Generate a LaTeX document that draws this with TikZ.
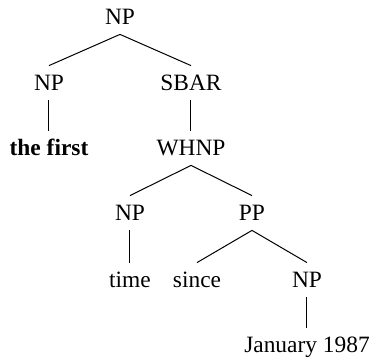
\documentclass[tikz,border=0pt]{standalone}
\usepackage{fontspec}
\setmainfont{Liberation Serif}
\usepackage{tikz}
\usetikzlibrary{positioning}

\tikzset{
  cat/.style={inner xsep=1pt, inner ysep=4.5pt, text height=8pt, text depth=0pt,
    font=\fontsize{11.7pt}{14pt}\selectfont},
  edge/.style={line width=0.5pt}
}

\begin{document}
\begin{tikzpicture}[x=0.5pt, y=-0.5pt, line join=round]

\useasboundingbox (0,0) rectangle (372,358);

\node (np0) at (120, 17) [cat] {NP};

\node (np1) at (49, 83) [cat] {NP};
\node (sbar) at (191, 83) [cat] {SBAR};

\node (first) at (49, 148) [cat] {\bfseries the first};
\node (whnp) at (191, 148) [cat] {WHNP};

\node (np2) at (130, 213) [cat] {NP};
\node (pp) at (252, 213) [cat] {PP};

\node (time) at (130, 280) [cat] {time};
\node (since) at (197, 280) [cat] {since};
\node (np3) at (307, 280) [cat] {NP};

\node (jan) at (307, 345) [cat] {January 1987};

\draw[edge] (np0.south) -- (np1.north);
\draw[edge] (np0.south) -- (sbar.north);
\draw[edge] (np1.south) -- (first.north);
\draw[edge] (sbar.south) -- (whnp.north);
\draw[edge] (whnp.south) -- (np2.north);
\draw[edge] (whnp.south) -- (pp.north);
\draw[edge] (np2.south) -- (time.north);
\draw[edge] (pp.south) -- (since.north);
\draw[edge] (pp.south) -- (np3.north);
\draw[edge] (np3.south) -- (jan.north);

\end{tikzpicture}
\end{document}
